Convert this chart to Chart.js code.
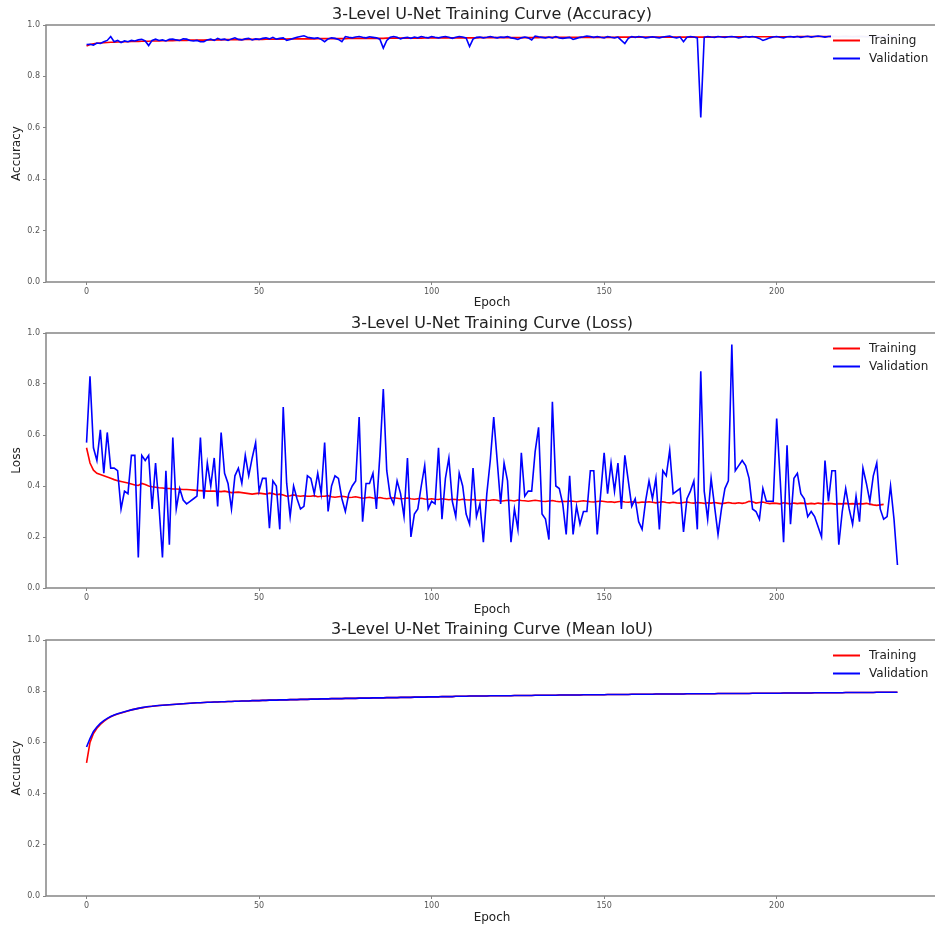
<!DOCTYPE html>
<html>
<head>
<meta charset="utf-8">
<script src="https://cdn.jsdelivr.net/npm/chart.js@4/dist/chart.umd.min.js"></script>
<style>
html, body { margin:0; padding:0; background:#fff; overflow:hidden; width:935px; height:931px; }
canvas { position:absolute; left:0; }
</style>
</head>
<body>
<canvas id="c1" width="986" height="310" style="top:0px"></canvas>
<canvas id="c2" width="986" height="310" style="top:310px"></canvas>
<canvas id="c3" width="986" height="311" style="top:620px"></canvas>
<script>
// ---------- data ----------
const epochs = Array.from({length: 236}, (_, i) => i);
const xTickValues = [0, 50, 100, 150, 200];
const yTickValues = [0.0, 0.2, 0.4, 0.6, 0.8, 1.0];
const seriesNames = ['Training', 'Validation'];
const titles = [
  '3-Level U-Net Training Curve (Accuracy)',
  '3-Level U-Net Training Curve (Loss)',
  '3-Level U-Net Training Curve (Mean IoU)'
];
const yLabels = ['Accuracy', 'Loss', 'Accuracy'];
const xLabel = 'Epoch';

const accTrain = [
0.918,0.924,0.927,0.929,0.930,0.931,0.932,0.933,0.933,0.934,
0.934,0.935,0.935,0.936,0.936,0.936,0.937,0.937,0.937,0.938,
0.938,0.938,0.939,0.939,0.939,0.939,0.940,0.940,0.940,0.940,
0.941,0.941,0.941,0.941,0.941,0.942,0.942,0.942,0.942,0.942,
0.943,0.943,0.943,0.943,0.943,0.943,0.944,0.944,0.944,0.944,
0.944,0.944,0.945,0.945,0.945,0.945,0.945,0.945,0.945,0.946,
0.946,0.946,0.946,0.946,0.946,0.946,0.946,0.947,0.947,0.947,
0.947,0.947,0.947,0.947,0.947,0.947,0.948,0.948,0.948,0.948,
0.948,0.948,0.948,0.948,0.948,0.948,0.948,0.949,0.949,0.949,
0.949,0.949,0.949,0.949,0.949,0.949,0.949,0.949,0.950,0.950,
0.950,0.950,0.950,0.950,0.950,0.950,0.950,0.950,0.950,0.950,
0.950,0.950,0.950,0.950,0.951,0.951,0.951,0.951,0.951,0.951,
0.951,0.951,0.951,0.951,0.951,0.951,0.951,0.951,0.951,0.951,
0.951,0.951,0.952,0.952,0.952,0.952,0.952,0.952,0.952,0.952,
0.952,0.952,0.952,0.952,0.952,0.952,0.952,0.952,0.952,0.952,
0.952,0.952,0.952,0.952,0.953,0.953,0.953,0.953,0.953,0.953,
0.953,0.953,0.953,0.953,0.953,0.953,0.953,0.953,0.953,0.953,
0.953,0.953,0.953,0.953,0.953,0.953,0.953,0.953,0.953,0.953,
0.953,0.953,0.953,0.954,0.954,0.954,0.954,0.954,0.954,0.954,
0.954,0.954,0.954,0.954,0.954,0.954,0.954,0.954,0.954,0.954,
0.954,0.954,0.954,0.954,0.954,0.954,0.955,0.955,0.955,0.955,
0.955,0.955,0.955,0.955,0.955,0.955,0.955,0.955,0.955,0.955,
0.955,0.955,0.955,0.955,0.955,0.955,0.955,0.955,0.955,0.955,
0.955,0.955,0.955,0.955,0.955,0.955
];
const accVal = [
0.924,0.925,0.922,0.930,0.928,0.935,0.940,0.955,0.935,0.940,
0.932,0.938,0.935,0.940,0.938,0.942,0.944,0.938,0.920,0.940,
0.945,0.940,0.942,0.938,0.944,0.945,0.942,0.940,0.946,0.945,
0.940,0.938,0.940,0.935,0.935,0.942,0.945,0.940,0.948,0.943,
0.945,0.940,0.946,0.950,0.944,0.942,0.946,0.948,0.942,0.946,
0.944,0.948,0.950,0.946,0.952,0.945,0.948,0.950,0.940,0.944,
0.948,0.952,0.955,0.958,0.952,0.950,0.948,0.950,0.944,0.935,
0.946,0.950,0.948,0.944,0.935,0.955,0.952,0.950,0.953,0.955,
0.952,0.950,0.954,0.952,0.950,0.945,0.910,0.940,0.952,0.955,
0.952,0.946,0.950,0.952,0.948,0.953,0.950,0.955,0.952,0.950,
0.955,0.952,0.950,0.953,0.955,0.952,0.948,0.952,0.955,0.953,
0.950,0.916,0.945,0.952,0.953,0.950,0.952,0.955,0.952,0.950,
0.953,0.952,0.955,0.950,0.948,0.944,0.950,0.953,0.950,0.942,
0.957,0.954,0.952,0.950,0.953,0.950,0.955,0.950,0.948,0.950,
0.952,0.944,0.948,0.952,0.954,0.957,0.955,0.952,0.955,0.952,
0.950,0.955,0.952,0.950,0.953,0.940,0.928,0.948,0.955,0.952,
0.955,0.953,0.950,0.952,0.954,0.952,0.950,0.953,0.955,0.957,
0.952,0.950,0.953,0.935,0.952,0.955,0.953,0.950,0.640,0.952,
0.955,0.953,0.952,0.955,0.953,0.952,0.954,0.955,0.953,0.950,
0.952,0.955,0.953,0.955,0.952,0.948,0.940,0.945,0.950,0.953,
0.955,0.952,0.950,0.954,0.955,0.953,0.955,0.952,0.954,0.956,
0.953,0.955,0.957,0.955,0.953,0.955,0.956,0.955,0.954,0.955,
0.956,0.955,0.954,0.955,0.956,0.955,0.954,0.955,0.956,0.955,
0.955,0.954,0.955,0.956,0.955,0.955
];
const lossTrain = [
0.550,0.490,0.462,0.450,0.445,0.440,0.435,0.430,0.425,0.421,
0.418,0.415,0.412,0.408,0.404,0.402,0.410,0.406,0.400,0.397,
0.395,0.393,0.392,0.390,0.390,0.388,0.388,0.387,0.386,0.386,
0.385,0.384,0.383,0.382,0.381,0.380,0.380,0.380,0.379,0.378,
0.380,0.377,0.374,0.375,0.376,0.374,0.372,0.370,0.368,0.370,
0.372,0.370,0.368,0.372,0.370,0.366,0.368,0.365,0.360,0.362,
0.365,0.362,0.360,0.362,0.360,0.360,0.362,0.358,0.360,0.360,
0.362,0.358,0.356,0.358,0.360,0.358,0.355,0.356,0.358,0.355,
0.352,0.354,0.356,0.353,0.352,0.355,0.352,0.350,0.352,0.354,
0.352,0.350,0.351,0.353,0.350,0.348,0.350,0.352,0.349,0.348,
0.350,0.348,0.347,0.350,0.348,0.346,0.348,0.347,0.345,0.348,
0.346,0.345,0.347,0.345,0.344,0.346,0.343,0.344,0.346,0.344,
0.340,0.342,0.344,0.343,0.341,0.345,0.343,0.342,0.340,0.342,
0.344,0.342,0.340,0.339,0.341,0.343,0.340,0.338,0.340,0.339,
0.341,0.340,0.338,0.340,0.342,0.340,0.338,0.337,0.339,0.341,
0.339,0.337,0.338,0.336,0.338,0.340,0.337,0.336,0.338,0.336,
0.335,0.337,0.336,0.338,0.336,0.334,0.336,0.338,0.335,0.334,
0.336,0.334,0.333,0.335,0.337,0.334,0.333,0.335,0.334,0.332,
0.334,0.333,0.335,0.333,0.331,0.333,0.335,0.333,0.332,0.334,
0.332,0.334,0.340,0.338,0.333,0.335,0.337,0.333,0.331,0.333,
0.332,0.330,0.334,0.332,0.330,0.333,0.331,0.333,0.332,0.330,
0.332,0.330,0.333,0.331,0.330,0.332,0.331,0.329,0.331,0.330,
0.332,0.330,0.331,0.329,0.331,0.330,0.332,0.329,0.326,0.324,
0.326,0.328
];
const lossVal = [
0.57,0.83,0.55,0.50,0.62,0.45,0.61,0.47,0.47,0.46,
0.31,0.38,0.37,0.52,0.52,0.12,0.52,0.50,0.52,0.31,
0.49,0.32,0.12,0.46,0.17,0.59,0.31,0.39,0.345,0.33,
0.34,0.35,0.36,0.59,0.35,0.49,0.40,0.51,0.32,0.61,
0.45,0.41,0.31,0.44,0.47,0.41,0.52,0.44,0.51,0.57,
0.38,0.43,0.43,0.235,0.42,0.40,0.23,0.71,0.41,0.28,
0.40,0.35,0.31,0.32,0.44,0.43,0.37,0.45,0.37,0.57,
0.30,0.40,0.44,0.43,0.35,0.30,0.37,0.40,0.42,0.67,
0.26,0.41,0.41,0.45,0.31,0.52,0.78,0.46,0.36,0.33,
0.42,0.37,0.28,0.51,0.20,0.29,0.31,0.40,0.48,0.31,
0.34,0.33,0.55,0.27,0.43,0.51,0.34,0.28,0.45,0.40,
0.29,0.25,0.47,0.28,0.33,0.18,0.37,0.50,0.67,0.50,
0.33,0.49,0.42,0.18,0.31,0.23,0.53,0.36,0.38,0.38,
0.535,0.63,0.29,0.27,0.19,0.73,0.40,0.39,0.33,0.21,
0.44,0.21,0.32,0.25,0.30,0.30,0.46,0.46,0.21,0.37,
0.53,0.37,0.49,0.38,0.49,0.31,0.52,0.42,0.32,0.35,
0.26,0.23,0.34,0.42,0.35,0.43,0.23,0.46,0.44,0.54,
0.37,0.38,0.39,0.22,0.35,0.38,0.42,0.23,0.85,0.38,
0.27,0.43,0.32,0.21,0.31,0.39,0.42,0.955,0.46,0.48,
0.50,0.48,0.43,0.31,0.30,0.27,0.39,0.34,0.34,0.34,
0.665,0.43,0.18,0.56,0.25,0.43,0.45,0.37,0.35,0.28,
0.30,0.28,0.24,0.20,0.50,0.34,0.46,0.46,0.17,0.30,
0.39,0.31,0.25,0.36,0.26,0.47,0.41,0.34,0.44,0.49,
0.31,0.27,0.28,0.40,0.27,0.09
];
const iouTrain = [
0.520,0.600,0.635,0.655,0.670,0.682,0.692,0.700,0.706,0.711,
0.715,0.719,0.723,0.727,0.730,0.733,0.735,0.737,0.739,0.741,
0.742,0.744,0.745,0.746,0.747,0.748,0.749,0.750,0.751,0.752,
0.753,0.754,0.755,0.755,0.756,0.757,0.757,0.758,0.758,0.759,
0.759,0.760,0.760,0.761,0.761,0.762,0.762,0.762,0.763,0.763,
0.763,0.764,0.764,0.765,0.765,0.765,0.766,0.766,0.766,0.767,
0.767,0.767,0.768,0.768,0.768,0.769,0.769,0.769,0.770,0.770,
0.770,0.771,0.771,0.771,0.771,0.772,0.772,0.772,0.772,0.773,
0.773,0.773,0.773,0.774,0.774,0.774,0.774,0.775,0.775,0.775,
0.775,0.776,0.776,0.776,0.776,0.777,0.777,0.777,0.777,0.778,
0.778,0.778,0.778,0.779,0.779,0.779,0.779,0.780,0.780,0.780,
0.780,0.781,0.781,0.781,0.781,0.781,0.781,0.782,0.782,0.782,
0.782,0.782,0.782,0.782,0.783,0.783,0.783,0.783,0.783,0.783,
0.784,0.784,0.784,0.784,0.784,0.784,0.784,0.785,0.785,0.785,
0.785,0.785,0.785,0.785,0.786,0.786,0.786,0.786,0.786,0.786,
0.786,0.787,0.787,0.787,0.787,0.787,0.787,0.787,0.788,0.788,
0.788,0.788,0.788,0.788,0.788,0.789,0.789,0.789,0.789,0.789,
0.789,0.789,0.789,0.789,0.790,0.790,0.790,0.790,0.790,0.790,
0.790,0.790,0.790,0.791,0.791,0.791,0.791,0.791,0.791,0.791,
0.791,0.791,0.791,0.792,0.792,0.792,0.792,0.792,0.792,0.792,
0.792,0.792,0.793,0.793,0.793,0.793,0.793,0.793,0.793,0.793,
0.793,0.794,0.794,0.794,0.794,0.794,0.794,0.794,0.794,0.794,
0.795,0.795,0.795,0.795,0.795,0.795,0.795,0.795,0.795,0.796,
0.796,0.796,0.796,0.796,0.796,0.796
];
const iouVal = [
0.582,0.615,0.643,0.660,0.674,0.685,0.694,0.701,0.707,0.712,
0.716,0.720,0.724,0.727,0.730,0.733,0.736,0.738,0.740,0.741,
0.743,0.744,0.745,0.746,0.747,0.748,0.749,0.750,0.751,0.752,
0.753,0.754,0.755,0.755,0.756,0.757,0.757,0.758,0.758,0.759,
0.759,0.760,0.760,0.761,0.761,0.762,0.762,0.762,0.763,0.763,
0.763,0.764,0.764,0.765,0.765,0.765,0.766,0.766,0.766,0.767,
0.767,0.767,0.768,0.768,0.768,0.769,0.769,0.769,0.770,0.770,
0.770,0.771,0.771,0.771,0.771,0.772,0.772,0.772,0.772,0.773,
0.773,0.773,0.773,0.774,0.774,0.774,0.774,0.775,0.775,0.775,
0.775,0.776,0.776,0.776,0.776,0.777,0.777,0.777,0.777,0.778,
0.778,0.778,0.778,0.779,0.779,0.779,0.779,0.780,0.780,0.780,
0.780,0.781,0.781,0.781,0.781,0.781,0.781,0.782,0.782,0.782,
0.782,0.782,0.782,0.782,0.783,0.783,0.783,0.783,0.783,0.783,
0.784,0.784,0.784,0.784,0.784,0.784,0.784,0.785,0.785,0.785,
0.785,0.785,0.785,0.785,0.786,0.786,0.786,0.786,0.786,0.786,
0.786,0.787,0.787,0.787,0.787,0.787,0.787,0.787,0.788,0.788,
0.788,0.788,0.788,0.788,0.788,0.789,0.789,0.789,0.789,0.789,
0.789,0.789,0.789,0.789,0.790,0.790,0.790,0.790,0.790,0.790,
0.790,0.790,0.790,0.791,0.791,0.791,0.791,0.791,0.791,0.791,
0.791,0.791,0.791,0.792,0.792,0.792,0.792,0.792,0.792,0.792,
0.792,0.792,0.793,0.793,0.793,0.793,0.793,0.793,0.793,0.793,
0.793,0.794,0.794,0.794,0.794,0.794,0.794,0.794,0.794,0.794,
0.795,0.795,0.795,0.795,0.795,0.795,0.795,0.795,0.795,0.796,
0.796,0.796,0.796,0.796,0.796,0.796
];

// ---------- drawing ----------
const FONT = "'DejaVu Sans', 'Liberation Sans', sans-serif";
const RED = '#ff0000', BLUE = '#0000ff';
const FRAME = '#858585';

const framePlugin = {
  id: 'frame',
  afterDatasetsDraw(chart) {
    const a = chart.chartArea, ctx = chart.ctx;
    ctx.save();
    ctx.strokeStyle = FRAME;
    ctx.lineWidth = 1.5;
    ctx.strokeRect(a.left, a.top, a.right - a.left, a.bottom - a.top);
    // legend (matplotlib style, upper right, white box over the lines)
    const top = a.top;
    ctx.globalAlpha = 0.95;
    ctx.fillStyle = '#ffffff';
    ctx.fillRect(831, top + 4, 130, 42);
    ctx.globalAlpha = 1;
    const rows = [[RED, seriesNames[0], top + 15.5], [BLUE, seriesNames[1], top + 33.5]];
    ctx.font = '12px ' + FONT;
    ctx.textBaseline = 'middle';
    ctx.textAlign = 'left';
    rows.forEach(([col, txt, y]) => {
      ctx.strokeStyle = col;
      ctx.lineWidth = 2;
      ctx.beginPath();
      ctx.moveTo(833, y);
      ctx.lineTo(860, y);
      ctx.stroke();
      ctx.fillStyle = '#222';
      ctx.fillText(txt, 869, y + 0.5);
    });
    ctx.restore();
  }
};

function pts(ys) { return ys.map((v, i) => ({x: epochs[i], y: v})); }

function makeChart(id, idx, train, val, titlePad, padBottom, xHeight) {
  return new Chart(document.getElementById(id), {
    type: 'line',
    data: {
      datasets: [
        {label: seriesNames[0], data: pts(train), borderColor: RED, borderWidth: 1.6,
         pointRadius: 0, tension: 0, fill: false, order: 1},
        {label: seriesNames[1], data: pts(val), borderColor: BLUE, borderWidth: 1.6,
         pointRadius: 0, tension: 0, fill: false, order: 0}
      ]
    },
    options: {
      responsive: false, animation: false, devicePixelRatio: 1,
      events: [],
      layout: {padding: {left: 3, right: 48, top: 0, bottom: padBottom}},
      plugins: {
        legend: {display: false},
        tooltip: {enabled: false},
        title: {display: true, text: titles[idx], fullSize: false, color: '#222',
                font: {family: FONT, size: 16, weight: 'normal', lineHeight: 1.2},
                padding: titlePad}
      },
      scales: {
        x: {
          type: 'linear', min: -11.75, max: 246.75,
          afterBuildTicks: s => { s.ticks = xTickValues.map(v => ({value: v})); },
          afterFit: s => { s.height = xHeight; },
          ticks: {font: {family: FONT, size: 8}, color: '#555', padding: 2, maxRotation: 0,
                  callback: v => String(v)},
          grid: {display: true, drawOnChartArea: false, drawTicks: true, tickLength: 3, color: FRAME},
          border: {display: false},
          title: {display: true, text: xLabel, color: '#222',
                  font: {family: FONT, size: 12, lineHeight: 1.2}, padding: {top: 0, bottom: 0}}
        },
        y: {
          min: 0, max: 1,
          afterBuildTicks: s => { s.ticks = yTickValues.map(v => ({value: v})); },
          afterFit: s => { s.width = 43; },
          ticks: {font: {family: FONT, size: 8}, color: '#555', padding: 3,
                  callback: v => Number(v).toFixed(1)},
          grid: {display: true, drawOnChartArea: false, drawTicks: true, tickLength: 3, color: FRAME},
          border: {display: false},
          title: {display: true, text: yLabels[idx], color: '#222',
                  font: {family: FONT, size: 12, lineHeight: 1.2}, padding: {top: 7, bottom: 0}}
        }
      }
    },
    plugins: [framePlugin]
  });
}

makeChart('c1', 0, accTrain, accVal, {top: 4.8, bottom: 1}, 0, 28);
makeChart('c2', 1, lossTrain, lossVal, {top: 3.8, bottom: 0}, 3, 29);
makeChart('c3', 2, iouTrain, iouVal, {top: 0, bottom: 0.8}, 6, 29);
</script>
</body>
</html>
